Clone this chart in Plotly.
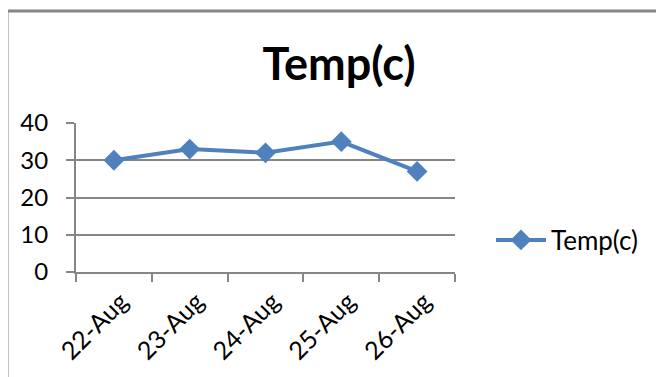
import plotly.graph_objects as go

dates = ["22-Aug", "23-Aug", "24-Aug", "25-Aug", "26-Aug"]
temps = [30, 33, 32, 35, 27]
series_name = "Temp(c)"
y_ticks = [0, 10, 20, 30, 40]

OFF = 8  # page body margin
W, H = 664 - OFF, 377 - OFF
L, R, T, B = 76 - OFF, 455 - OFF, 123 - OFF, 272 - OFF
pw, ph = R - L, B - T

def px(x):
    return (x - OFF - L) / pw

def py(y):
    return (B - (y - OFF)) / ph

blue = "#4F81BD"
gray = "#868686"
font = "Lato"

fig = go.Figure()
fig.add_trace(go.Scatter(
    x=dates, y=temps, name=series_name, mode="lines+markers",
    line=dict(color=blue, width=4),
    marker=dict(symbol="diamond", size=16, color=blue),
))

fig.update_layout(
    width=W, height=H,
    margin=dict(l=L, r=W - R, t=T, b=H - B, pad=0, autoexpand=False),
    paper_bgcolor="white", plot_bgcolor="white",
    font=dict(family=font, color="black", size=24),
    title=dict(text="<b>Temp(c)</b>", font=dict(family=font, size=45, color="black"),
               x=px(339), xref="paper", xanchor="center",
               y=1 - (64 - OFF) / H, yref="container", yanchor="middle"),
    showlegend=True,
    legend=dict(x=px(491), y=py(240), xanchor="left", yanchor="middle",
                font=dict(size=26, family=font), bgcolor="rgba(0,0,0,0)",
                itemwidth=50),
    xaxis=dict(type="category", range=[-0.5, 4.5], tickson="boundaries",
               ticks="outside", ticklen=8, tickcolor=gray, tickwidth=2,
               showline=True, linecolor=gray, linewidth=2, automargin=False,
               showgrid=False, tickangle=-45, tickfont=dict(size=25),
               ticklabelshift=7, ticklabelstandoff=3),
    yaxis=dict(range=[0, 40], tickvals=y_ticks, ticks="outside", ticklen=8,
               tickcolor=gray, tickwidth=2, showline=True, linecolor=gray,
               linewidth=2, showgrid=True, gridcolor=gray, gridwidth=2,
               automargin=False,
               zeroline=False, tickfont=dict(size=24), ticklabelstandoff=13),
    shapes=[dict(type="path", xref="paper", yref="paper",
                 path=f"M {px(7)} {py(H + 30)} L {px(7)} {py(11)} L {px(W + 30)} {py(11)}",
                 line=dict(color=gray, width=3))],
)

fig.write_html("out.html")
